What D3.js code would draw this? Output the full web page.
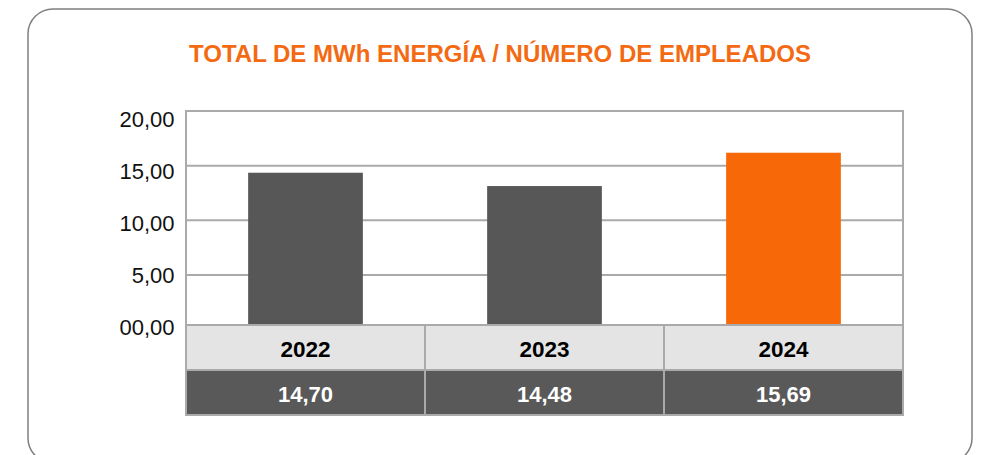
<!DOCTYPE html>
<html>
<head>
<meta charset="utf-8">
<script src="https://cdn.jsdelivr.net/npm/d3@7"></script>
<style>
  body { margin: 0; background: #fff; }
  svg { display: block; font-family: "Liberation Sans", Arial, sans-serif; }
</style>
</head>
<body>
<script>
'use strict';

// data
const years = ["2022", "2023", "2024"];
const barValues = [14.35, 13.13, 16.18];     // bar heights as drawn
const tableLabels = ["14,70", "14,48", "15,69"]; // values printed in the table
const yTicks = [0, 5, 10, 15, 20];
const yTickLabels = ["00,00", "5,00", "10,00", "15,00", "20,00"];
const title = "TOTAL DE MWh ENERGÍA / NÚMERO DE EMPLEADOS";

const measurements = {
    width: 982,
    height: 455,
    plotLeft: 186,
    plotRight: 903,
    plotTop: 111,
    zeroY: 329.5,
    tableTop: 325,
    rowHeight: 45
};

const colors = {
    orange: "#f76808",
    title: "#f36a12",
    bar: "#575757",
    grid: "#aaaaaa",
    header: "#e4e4e4",
    valueRow: "#595959"
};

const svg = d3.select('body')
    .append('svg')
    .attr('width', measurements.width)
    .attr('height', measurements.height);

// outer rounded box
svg.append('rect')
    .attr('x', 28)
    .attr('y', 9)
    .attr('width', 944)
    .attr('height', 454)
    .attr('rx', 25)
    .attr('fill', 'none')
    .attr('stroke', '#7f7f7f')
    .attr('stroke-width', 1.5);

// title
svg.append('text')
    .attr('x', 500)
    .attr('y', 62)
    .attr('text-anchor', 'middle')
    .attr('fill', colors.title)
    .style('font-size', '23.5px')
    .style('font-weight', 'bold')
    .attr('textLength', 622)
    .attr('lengthAdjust', 'spacingAndGlyphs')
    .text(title);

// scales
let xScale = d3.scaleBand()
    .domain(years)
    .range([measurements.plotLeft, measurements.plotRight])
    .paddingInner(0.52)
    .paddingOuter(0.26);

let colBand = d3.scaleBand()
    .domain(years)
    .range([measurements.plotLeft, measurements.plotRight]);

let yScale = d3.scaleLinear()
    .domain([0, 20])
    .range([measurements.zeroY, measurements.plotTop]);

// labels sit a bit below their gridlines in the original
let labelScale = d3.scaleLinear()
    .domain([0, 20])
    .range([327, 119]);

// gridlines
svg.append('g')
    .selectAll('line')
    .data(yTicks.filter((d) => d > 0))
    .enter()
    .append('line')
    .attr('x1', measurements.plotLeft)
    .attr('x2', measurements.plotRight)
    .attr('y1', (d) => yScale(d))
    .attr('y2', (d) => yScale(d))
    .attr('stroke', colors.grid)
    .attr('stroke-width', 2);

// frame sides
svg.append('path')
    .attr('d', 'M' + measurements.plotLeft + ',' + measurements.tableTop +
        'V' + yScale(20) + 'H' + measurements.plotRight + 'V' + measurements.tableTop)
    .attr('fill', 'none')
    .attr('stroke', colors.grid)
    .attr('stroke-width', 2);

// bars
svg.append('g')
    .selectAll('rect')
    .data(years)
    .enter()
    .append('rect')
    .attr('x', (d) => xScale(d))
    .attr('width', xScale.bandwidth())
    .attr('y', (d, i) => yScale(barValues[i]))
    .attr('height', (d, i) => measurements.tableTop - yScale(barValues[i]))
    .attr('fill', (d, i) => i === years.length - 1 ? colors.orange : colors.bar);

// y tick labels
svg.append('g')
    .selectAll('text')
    .data(yTicks)
    .enter()
    .append('text')
    .attr('x', 174.5)
    .attr('y', (d) => labelScale(d))
    .attr('dy', '0.35em')
    .attr('text-anchor', 'end')
    .attr('fill', '#111')
    .style('font-size', '22px')
    .text((d, i) => yTickLabels[i]);

// table below the chart
let table = svg.append('g');
let t0 = measurements.tableTop;
let rh = measurements.rowHeight;

table.selectAll('.hdr')
    .data(years)
    .enter()
    .append('rect')
    .attr('class', 'hdr')
    .attr('x', (d) => colBand(d))
    .attr('y', t0)
    .attr('width', colBand.bandwidth())
    .attr('height', rh)
    .attr('fill', colors.header)
    .attr('stroke', colors.grid)
    .attr('stroke-width', 2);

table.selectAll('.val')
    .data(years)
    .enter()
    .append('rect')
    .attr('class', 'val')
    .attr('x', (d) => colBand(d))
    .attr('y', t0 + rh)
    .attr('width', colBand.bandwidth())
    .attr('height', rh)
    .attr('fill', colors.valueRow)
    .attr('stroke', colors.grid)
    .attr('stroke-width', 2);

table.selectAll('.yearText')
    .data(years)
    .enter()
    .append('text')
    .attr('class', 'yearText')
    .attr('x', (d) => colBand(d) + colBand.bandwidth() / 2)
    .attr('y', t0 + rh / 2 + 1.5)
    .attr('dy', '0.35em')
    .attr('text-anchor', 'middle')
    .attr('fill', '#000')
    .style('font-size', '22.5px')
    .style('font-weight', 'bold')
    .text((d) => d);

table.selectAll('.valText')
    .data(years)
    .enter()
    .append('text')
    .attr('class', 'valText')
    .attr('x', (d) => colBand(d) + colBand.bandwidth() / 2)
    .attr('y', t0 + rh * 1.5 + 2)
    .attr('dy', '0.35em')
    .attr('text-anchor', 'middle')
    .attr('fill', '#fff')
    .style('font-size', '22px')
    .style('font-weight', 'bold')
    .text((d, i) => tableLabels[i]);
</script>
</body>
</html>
